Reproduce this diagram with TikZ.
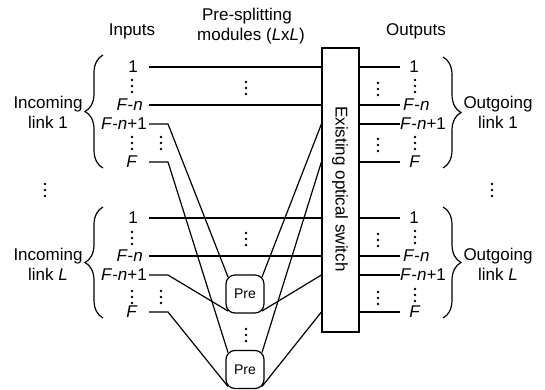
\documentclass[tikz,border=0pt]{standalone}
\usepackage{fontspec}
\setmainfont{Liberation Sans}
\usetikzlibrary{decorations.pathreplacing,calc}
\begin{document}
\begin{tikzpicture}[x=1pt,y=-1pt,
  ln/.style={line width=1.2pt},
  lab/.style={inner sep=0pt, font=\fontsize{17}{20}\selectfont},
  swbox/.style={draw, line width=1.2pt, minimum width=37pt, minimum height=284pt, inner sep=0pt},
  premod/.style={draw, line width=1.2pt, rounded corners=9pt, minimum width=38pt, minimum height=38pt, inner sep=0pt, font=\fontsize{14}{16}\selectfont},
  brc/.style={decorate, decoration={brace, amplitude=18pt}, line width=1.2pt},
  pics/vdts/.style={code={\foreach \k in {-6,0,6} \fill (0,\k) circle (1.3pt);}}
]
\useasboundingbox (0,0) rectangle (545,390);

% switch
\node[swbox] (sw) at (340.5,190) {};
\node[lab, rotate=-90] (swt) at (340,189) {Existing optical switch};

% pre-splitting modules
\node[premod] (p1) at (245,294) {Pre};
\node[premod] (p2) at (245,369.5) {Pre};
\coordinate (p1nw) at ($(p1.north west)+(2.6,2.6)$);
\coordinate (p1sw) at ($(p1.south west)+(2.6,-2.6)$);
\coordinate (p1ne) at ($(p1.north east)+(-2.6,2.6)$);
\coordinate (p1se) at ($(p1.south east)+(-2.6,-2.6)$);
\coordinate (p2nw) at ($(p2.north west)+(2.6,2.6)$);
\coordinate (p2sw) at ($(p2.south west)+(2.6,-2.6)$);
\coordinate (p2ne) at ($(p2.north east)+(-2.6,2.6)$);
\coordinate (p2se) at ($(p2.south east)+(-2.6,-2.6)$);

% line ends
\foreach \y/\n in {67/a,105/b,124/c,162/d,218/e,256/f,275/g,312/h}{
  \coordinate (L\n) at (149,\y);
  \coordinate (R\n) at (400,\y);
}

% straight input lines
\foreach \n in {a,b,e,f}{ \draw[ln] (L\n) -- (L\n -| sw.west); }
% output lines
\foreach \n in {a,b,c,d,e,f,g,h}{ \draw[ln] (sw.east |- R\n) -- (R\n); }

% lines through pre modules
\draw[ln] (Lc) -- ++(19,0) -- (p1nw);
\draw[ln] (Ld) -- ++(19,0) -- (p2nw);
\draw[ln] (Lg) -- ++(19,0) -- (p1sw);
\draw[ln] (Lh) -- ++(19,0) -- (p2sw);
\draw[ln] (p1ne) -- (sw.west |- Lc);
\draw[ln] (p2ne) -- (sw.west |- Ld);
\draw[ln] (p1se) -- (sw.west |- Lg);
\draw[ln] (p2se) -- (sw.west |- Lh);

% titles
\node[lab, anchor=base] (tin) at (132,36) {Inputs};
\node[lab, anchor=base] (tpre1) at (247,21) {Pre-splitting};
\node[lab, anchor=base] (tpre2) at (251,41) {modules (\textit{L}x\textit{L})};
\node[lab, anchor=base] (tout) at (416,36) {Outputs};

% input labels
\node[lab] (i1a) at (133,67) {1};
\node[lab, anchor=east] (i1b) at (143,105) {\textit{F}-\textit{n}};
\node[lab, anchor=east] (i1c) at (147,124) {\textit{F}-\textit{n}+1};
\node[lab] (i1d) at (132,162) {\textit{F}};
\node[lab] (iLa) at (133,218) {1};
\node[lab, anchor=east] (iLb) at (143,256) {\textit{F}-\textit{n}};
\node[lab, anchor=east] (iLc) at (147,275) {\textit{F}-\textit{n}+1};
\node[lab] (iLd) at (132,312) {\textit{F}};

% output labels
\node[lab] (o1a) at (414,67) {1};
\node[lab, anchor=west] (o1b) at (403,105) {\textit{F}-\textit{n}};
\node[lab, anchor=west] (o1c) at (400,124) {\textit{F}-\textit{n}+1};
\node[lab] (o1d) at (415,162) {\textit{F}};
\node[lab] (oLa) at (414,218) {1};
\node[lab, anchor=west] (oLb) at (403,256) {\textit{F}-\textit{n}};
\node[lab, anchor=west] (oLc) at (400,275) {\textit{F}-\textit{n}+1};
\node[lab] (oLd) at (415,312) {\textit{F}};

% braces
\draw[brc] (103,168) -- (103,55);
\draw[brc] (103,318) -- (103,207);
\draw[brc] (443,57) -- (443,168);
\draw[brc] (443,207) -- (443,318);

\node[lab, align=center] (inc1) at (48,112) {Incoming\\link 1};
\node[lab, align=center] (incL) at (48,264) {Incoming\\link \textit{L}};
\node[lab, align=center] (out1) at (498,112) {Outgoing\\link 1};
\node[lab, align=center] (outL) at (498,264) {Outgoing\\link \textit{L}};

% vertical dots
\foreach \x/\y in {132/86,132/143,161/143,132/238,132/297,161/297,
                   246/88,246/239,246/335,
                   378/89,378/145,378/240,378/298,
                   415/86,415/143,415/237,415/295,
                   45/190,492/190}{
  \pic at (\x,\y) {vdts};
}
\end{tikzpicture}
\end{document}
